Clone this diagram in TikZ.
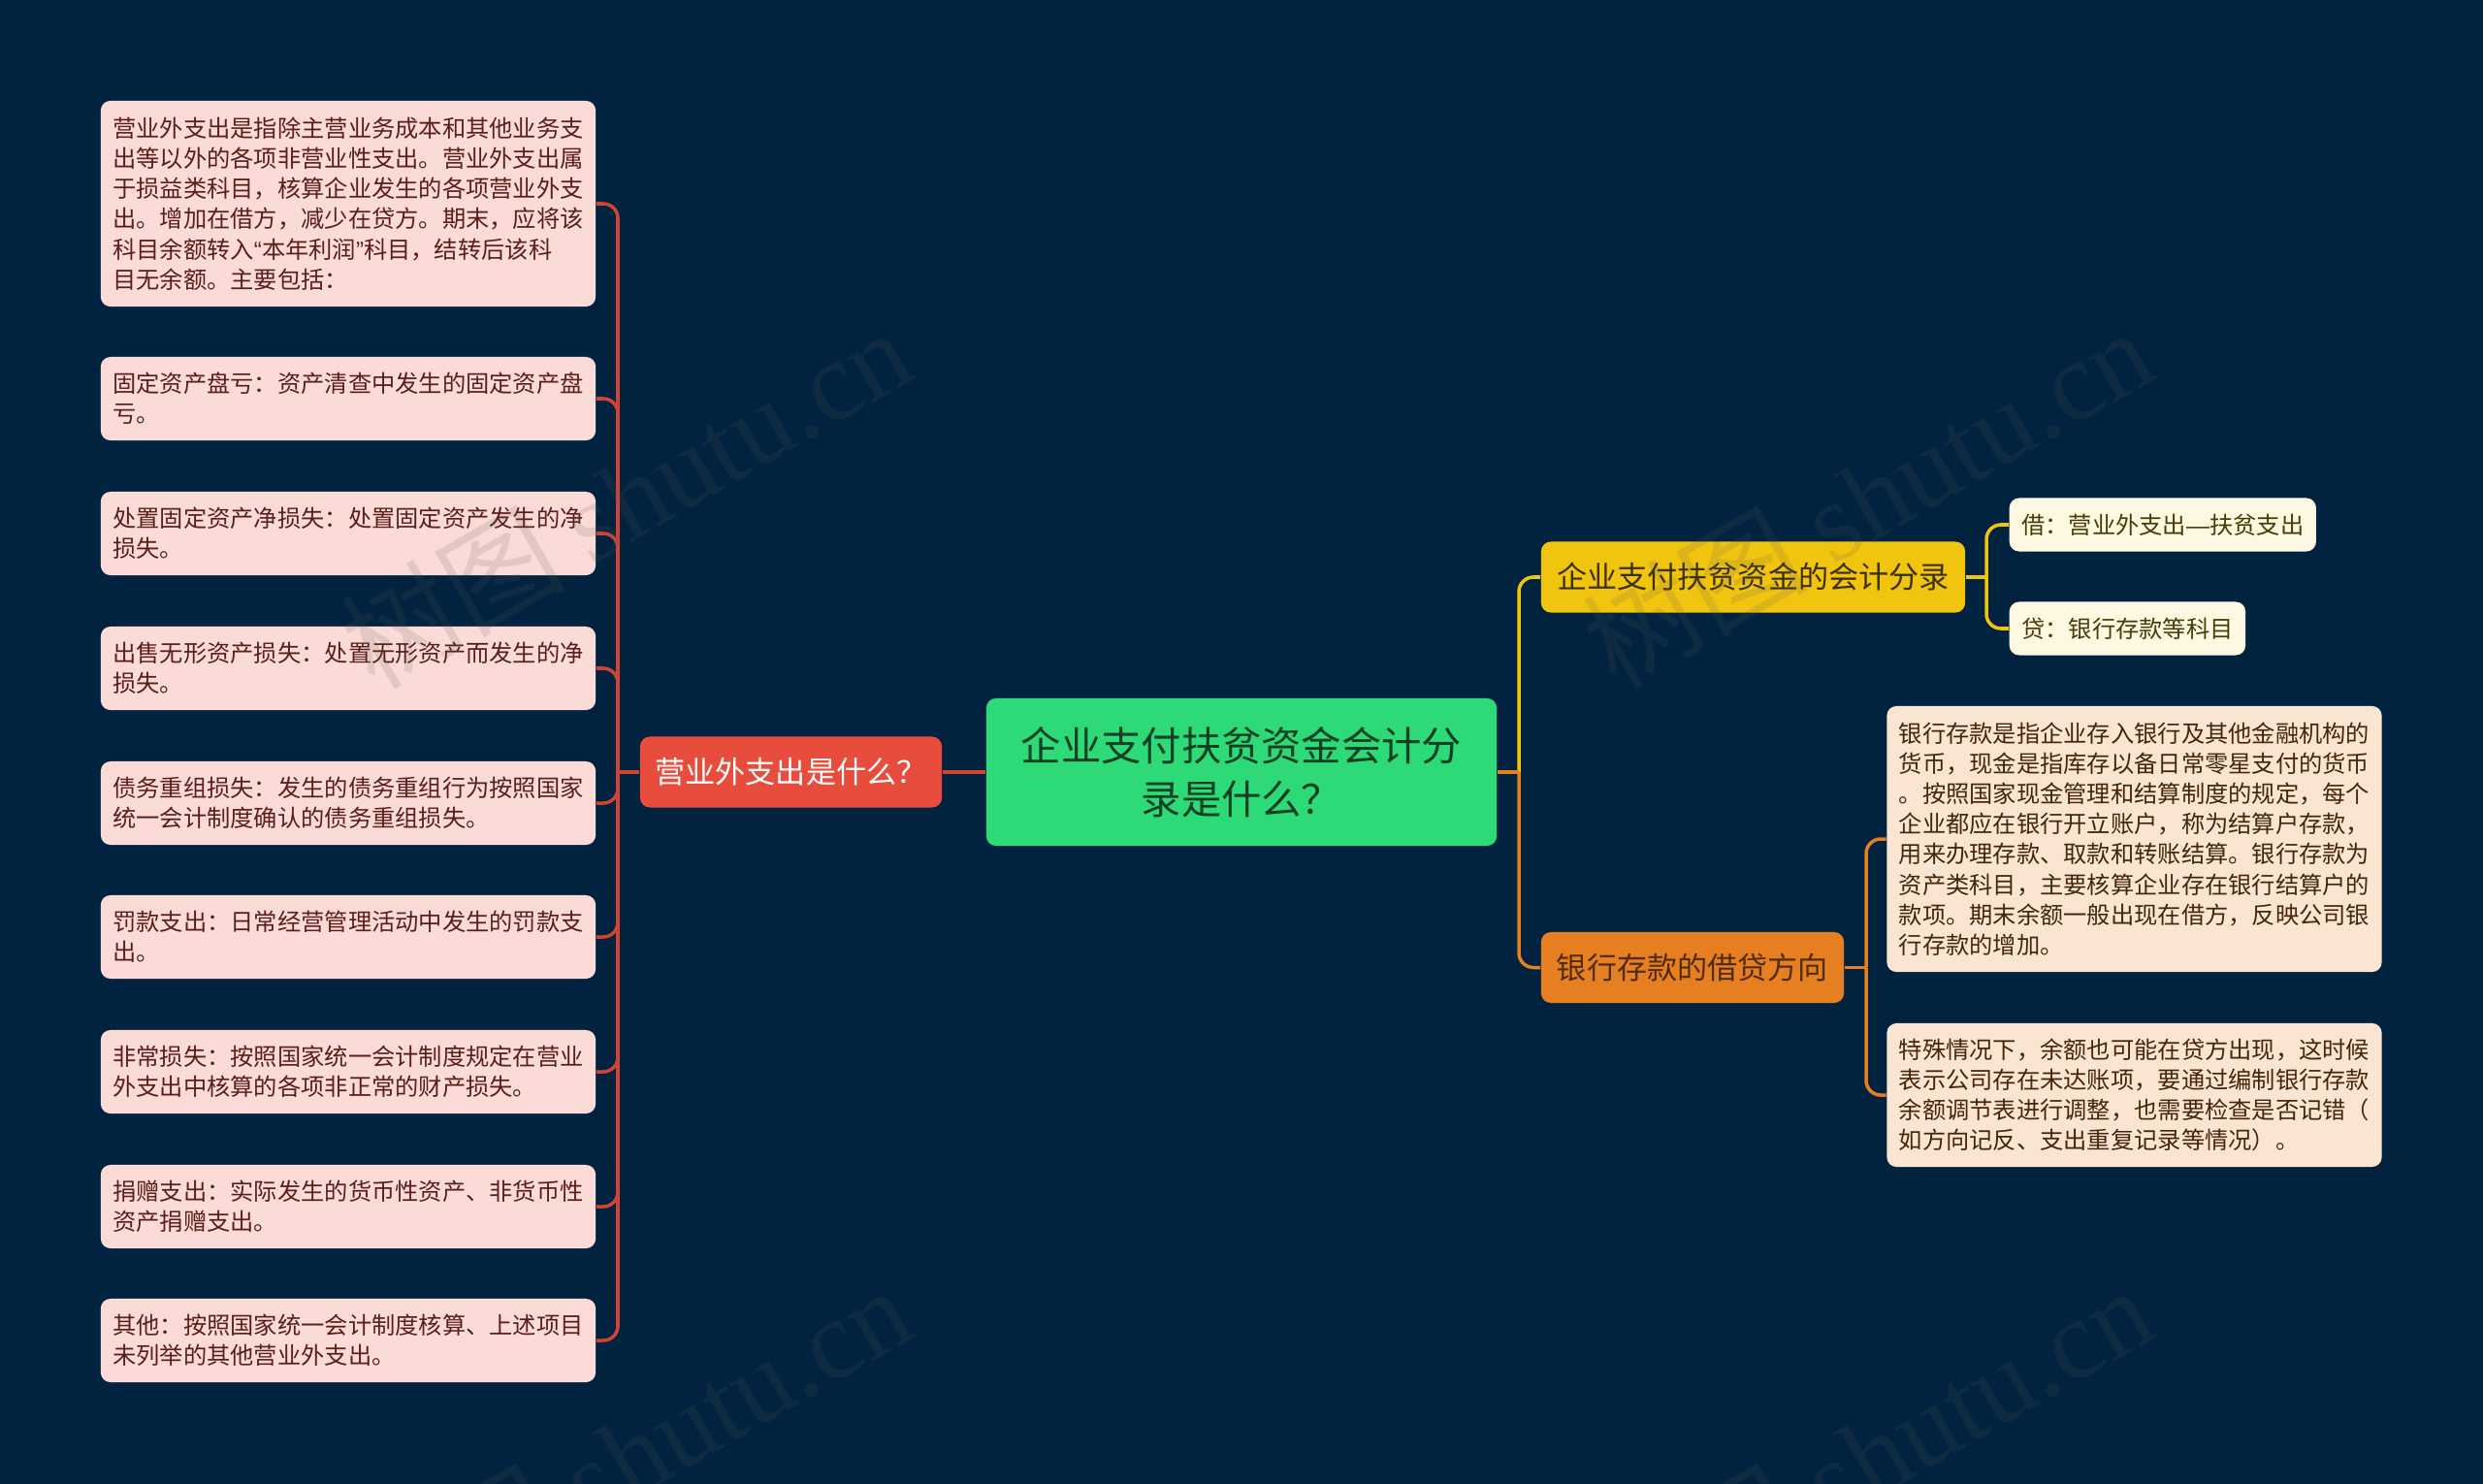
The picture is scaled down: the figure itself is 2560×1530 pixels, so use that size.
\documentclass[tikz,border=0pt]{standalone}
\usepackage{fontspec}
\setmainfont{Noto Sans CJK SC}
\newfontfamily\latinserif{Liberation Serif}
\newfontfamily\latinsans{Liberation Sans}
\definecolor{fond}{HTML}{02233F}
\definecolor{vert}{HTML}{2ED978}
\definecolor{rouge}{HTML}{E74C3C}
\definecolor{jaune}{HTML}{F1C40F}
\definecolor{orange}{HTML}{E67E22}
\begin{document}
\begin{tikzpicture}[x=0.01cm,y=-0.01cm]
		\tikzstyle{bloc}=[rounded corners=0.1cm,align=center,inner sep=0pt,font=\fontsize{8.85}{11}\selectfont,minimum height=0.73cm]
		\tikzstyle{racine}=[bloc,fill=vert,text=vert!30!black,font=\fontsize{11.75}{15.7}\selectfont]
		\tikzstyle{bloc_rouge}=[bloc,fill=rouge,text=white]
		\tikzstyle{bloc_jaune}=[bloc,fill=jaune,text=jaune!25!black]
		\tikzstyle{bloc_orange}=[bloc,fill=orange,text=orange!35!black]
		\tikzstyle{feuille}=[rounded corners=0.1cm,align=left,inner xsep=0.125cm,inner ysep=0pt,text width=4.85cm,font=\fontsize{6.9}{8.87}\selectfont]
		\tikzstyle{feuille_rouge}=[feuille,fill=rouge!20!white,text=rouge!40!black,minimum height=0.86cm]
		\tikzstyle{feuille_jaune}=[feuille,fill=jaune!12!white,text=jaune!30!black,text width=,minimum height=0.55cm]
		\tikzstyle{feuille_orange}=[feuille,fill=orange!20!white,text=orange!30!black]
		\tikzstyle{lien_rouge}=[draw=rouge!90!black,line width=1pt,rounded corners=0.15cm]
		\tikzstyle{lien_jaune}=[draw=jaune,line width=1pt,rounded corners=0.15cm]
		\tikzstyle{lien_orange}=[draw=orange,line width=1pt,rounded corners=0.15cm]
		\tikzstyle{filigrane}=[opacity=0.15,text=black!65,rotate=30,font=\fontsize{33}{33}\selectfont]
		\useasboundingbox (0,0) rectangle (2560,1530);
		\fill[fond] (0,0) rectangle (2560,1530);

		\node[racine,minimum width=5.26cm,minimum height=1.52cm] (centre) at (1280,796) {企业支付扶贫资金会计分\\录是什么？};
		\node[bloc_rouge,minimum width=3.11cm] (depenses) at (815.5,796) {营业外支出是什么？}; % gauche
		\node[bloc_jaune,minimum width=4.37cm] (ecriture) at (1807.5,595) {企业支付扶贫资金的会计分录}; % droite haut
		\node[bloc_orange,minimum width=3.12cm] (banque) at (1745,997.5) {银行存款的借贷方向}; % droite bas

		\node[feuille_rouge,minimum height=2.12cm] (definition) at (359,210) {营业外支出是指除主营业务成本和其他业务支\\出等以外的各项非营业性支出。营业外支出属\\于损益类科目，核算企业发生的各项营业外支\\出。增加在借方，减少在贷方。期末，应将该\\科目余额转入{\latinsans “}本年利润{\latinsans ”}科目，结转后该科\\目无余额。主要包括：};
		\node[feuille_rouge] (panne) at (359,411) {固定资产盘亏：资产清查中发生的固定资产盘\\亏。};
		\node[feuille_rouge] (cession) at (359,550) {处置固定资产净损失：处置固定资产发生的净\\损失。};
		\node[feuille_rouge] (incorporel) at (359,689) {出售无形资产损失：处置无形资产而发生的净\\损失。};
		\node[feuille_rouge] (dette) at (359,828) {债务重组损失：发生的债务重组行为按照国家\\统一会计制度确认的债务重组损失。};
		\node[feuille_rouge] (amende) at (359,966) {罚款支出：日常经营管理活动中发生的罚款支\\出。};
		\node[feuille_rouge] (perte) at (359,1105) {非常损失：按照国家统一会计制度规定在营业\\外支出中核算的各项非正常的财产损失。};
		\node[feuille_rouge] (don) at (359,1244) {捐赠支出：实际发生的货币性资产、非货币性\\资产捐赠支出。};
		\node[feuille_rouge] (autre) at (359,1382) {其他：按照国家统一会计制度核算、上述项目\\未列举的其他营业外支出。};

		\node[feuille_jaune,anchor=west] (debit) at (2071,541) {借：营业外支出{\latinsans —}扶贫支出};
		\node[feuille_jaune,anchor=west] (credit) at (2071,648) {贷：银行存款等科目};

		\node[feuille_orange,minimum height=2.74cm] (compte) at (2200.5,865) {银行存款是指企业存入银行及其他金融机构的\\货币，现金是指库存以备日常零星支付的货币\\。按照国家现金管理和结算制度的规定，每个\\企业都应在银行开立账户，称为结算户存款，\\用来办理存款、取款和转账结算。银行存款为\\资产类科目，主要核算企业存在银行结算户的\\款项。期末余额一般出现在借方，反映公司银\\行存款的增加。};
		\node[feuille_orange,minimum height=1.48cm] (special) at (2200.5,1129) {特殊情况下，余额也可能在贷方出现，这时候\\表示公司存在未达账项，要通过编制银行存款\\余额调节表进行调整，也需要检查是否记错（\\如方向记反、支出重复记录等情况）。};

		\coordinate (axe_gauche) at (637,796);
		\coordinate (axe_droit) at (1566,796);
		\coordinate (axe_jaune) at (2048,595);
		\coordinate (axe_orange) at (1924,997.5);

		\draw[lien_rouge] (centre.west) -- (depenses.east);
		\draw[lien_rouge] (depenses.west) -- (axe_gauche);
		\draw[lien_rouge] (axe_gauche) |- (definition.east);
		\draw[lien_rouge] (axe_gauche) |- (panne.east);
		\draw[lien_rouge] (axe_gauche) |- (cession.east);
		\draw[lien_rouge] (axe_gauche) |- (incorporel.east);
		\draw[lien_rouge] (axe_gauche) |- (dette.east);
		\draw[lien_rouge] (axe_gauche) |- (amende.east);
		\draw[lien_rouge] (axe_gauche) |- (perte.east);
		\draw[lien_rouge] (axe_gauche) |- (don.east);
		\draw[lien_rouge] (axe_gauche) |- (autre.east);

		\draw[lien_jaune] (axe_droit) |- (ecriture.west);
		\draw[lien_orange] (axe_droit) |- (banque.west);
		\draw[lien_orange] (centre.east) -- (axe_droit);

		\draw[lien_jaune] (ecriture.east) -- (axe_jaune);
		\draw[lien_jaune] (axe_jaune) |- (debit.west);
		\draw[lien_jaune] (axe_jaune) |- (credit.west);
		\draw[lien_orange] (banque.east) -- (axe_orange);
		\draw[lien_orange] (axe_orange) |- (compte.west);
		\draw[lien_orange] (axe_orange) |- (special.west);

		\node[filigrane] (marque_a) at (645,512) {树图 {\latinserif shutu.cn}};
		\node[filigrane] (marque_b) at (1925,512) {树图 {\latinserif shutu.cn}};
		\node[filigrane] (marque_c) at (645,1500) {树图 {\latinserif shutu.cn}};
		\node[filigrane] (marque_d) at (1925,1500) {树图 {\latinserif shutu.cn}};
	\end{tikzpicture}
\end{document}
